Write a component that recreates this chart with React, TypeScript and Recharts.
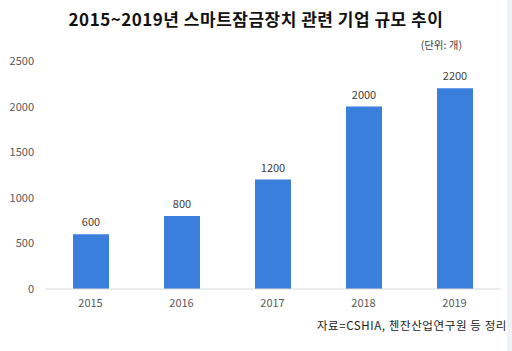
import { BarChart, Bar, XAxis, YAxis, LabelList } from "recharts";

const YEARS = ["2015", "2016", "2017", "2018", "2019"];
const COMPANIES = [600, 800, 1200, 2000, 2200];
const Y_TICKS = [0, 500, 1000, 1500, 2000, 2500];

const TITLE = "2015~2019년 스마트잠금장치 관련 기업 규모 추이";
const UNIT = "(단위: 개)";
const SOURCE = "자료=CSHIA, 첸잔산업연구원 등 정리";

const FONT = "'Noto Sans CJK KR', 'Noto Sans', sans-serif";
const BAR_COLOR = "#3b7fdc";

export default function App() {
    const data = YEARS.map((year, i) => ({ year, value: COMPANIES[i] }));

    return (
        <div
            style={{
                position: "absolute",
                left: 0,
                top: 0,
                width: 512,
                height: 351,
                background: "#ffffff",
                fontFamily: FONT,
                overflow: "hidden",
            }}
        >
            <div
                style={{
                    position: "absolute",
                    top: 6,
                    left: 0,
                    width: 512,
                    textAlign: "center",
                    fontSize: 17,
                    fontWeight: 700,
                    color: "#111",
                    letterSpacing: 0.5,
                }}
            >
                {TITLE}
            </div>
            <div
                style={{
                    position: "absolute",
                    top: 37,
                    right: 50,
                    fontSize: 10.5,
                    color: "#404040",
                }}
            >
                {UNIT}
            </div>
            <div
                style={{
                    position: "absolute",
                    top: 317,
                    right: 5,
                    fontSize: 11.5,
                    color: "#222",
                    letterSpacing: 0.6,
                }}
            >
                {SOURCE}
            </div>
            <div
                style={{
                    position: "absolute",
                    top: 0,
                    right: 0,
                    width: 5,
                    height: 351,
                    background: "#eef1f5",
                }}
            />
            <BarChart
                width={512}
                height={351}
                data={data}
                margin={{ top: 61, right: 12, bottom: 32, left: 0 }}
                barCategoryGap="30%"
            >
                <XAxis
                    dataKey="year"
                    axisLine={{ stroke: "#d9d9d9" }}
                    tickLine={false}
                    tick={{ fontSize: 11, fill: "#595959", fontFamily: FONT }}
                    tickMargin={4}
                />
                <YAxis
                    width={45}
                    domain={[0, 2500]}
                    ticks={Y_TICKS}
                    axisLine={false}
                    tickLine={false}
                    tickMargin={5}
                    tick={{ fontSize: 11, fill: "#595959", fontFamily: FONT }}
                />
                <Bar dataKey="value" fill={BAR_COLOR} barSize={36} isAnimationActive={false}>
                    <LabelList
                        dataKey="value"
                        position="top"
                        offset={8}
                        style={{ fontSize: 11, fill: "#404040", fontFamily: FONT }}
                    />
                </Bar>
            </BarChart>
        </div>
    );
}
